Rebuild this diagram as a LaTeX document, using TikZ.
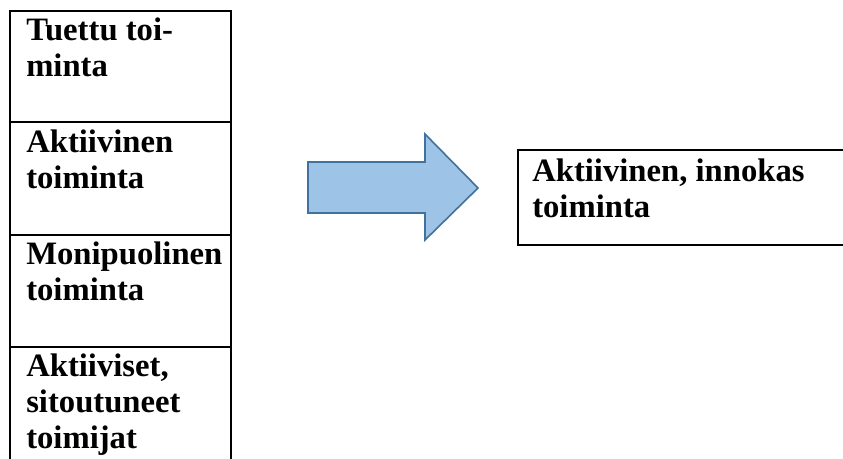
\documentclass[tikz,border=0pt]{standalone}
\usepackage{fontspec}
\setmainfont{Liberation Serif}
\usetikzlibrary{positioning,calc}
\definecolor{arrowfill}{RGB}{157,195,230}
\definecolor{arrowline}{RGB}{65,113,156}

\begin{document}
\begin{tikzpicture}[
    x=0.75pt,y=-0.75pt,
    cell/.style={draw=black,line width=1.4pt,rectangle,anchor=north west,
                 minimum width=165.75pt,inner sep=0pt,outer sep=0pt},
    celltext/.style={anchor=base west,inner sep=0pt,text width=158pt,
                     align=flush left,font=\bfseries\fontsize{24.5}{27}\selectfont},
    bigarrow/.style={draw=arrowline,fill=arrowfill,line width=1.2pt,
                     line join=miter}
]
  \useasboundingbox (0,0) rectangle (843,458);
  \clip (0,0) rectangle (843,458);

  % Left column: four stacked cells, the last one runs off the page.
  \node[cell,minimum height=83.25pt] (c1) at (10,11) {};
  \node[cell,minimum height=84.75pt] (c2) at (c1.south west) {};
  \node[cell,minimum height=84pt]    (c3) at (c2.south west) {};
  \node[cell,minimum height=92.25pt] (c4) at (c3.south west) {};

  \node[celltext] (t1) at ($(c1.north west)+(16,29)$) {Tuettu toi-\\minta};
  \node[celltext] (t2) at ($(c2.north west)+(16,30)$) {Aktiivinen\\toiminta};
  \node[celltext] (t3) at ($(c3.north west)+(16,29)$) {Monipuolinen\\toiminta};
  \node[celltext] (t4) at ($(c4.north west)+(16,29)$) {Aktiiviset,\\sitoutuneet\\toimijat};

  % Block arrow in the middle.
  \draw[bigarrow] (308,162) -- (425,162) -- (425,134) -- (478,188)
                  -- (425,240) -- (425,213) -- (308,213) -- cycle;

  % Right cell, open towards the right edge.
  \node[cell,minimum width=255pt,minimum height=71.25pt] (goal) at (518,150) {};
  \node[celltext,text width=240pt] (tg) at ($(goal.north west)+(14,31)$)
    {Aktiivinen, innokas\\toiminta};
\end{tikzpicture}
\end{document}
